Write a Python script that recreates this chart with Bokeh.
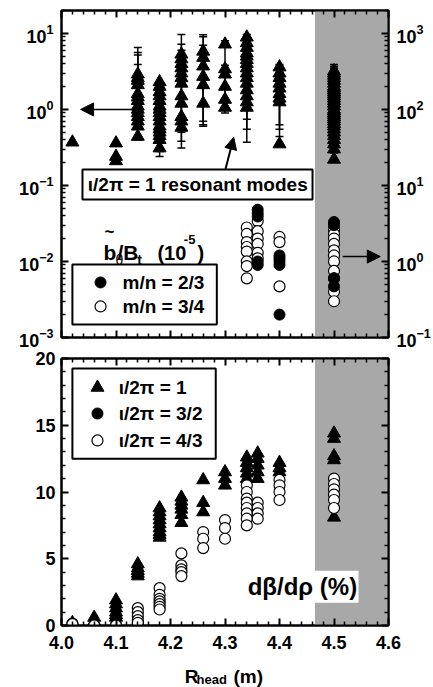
from bokeh.plotting import figure
from bokeh.layouts import column
from bokeh.models import (Range1d, LogAxis, LinearAxis, FixedTicker, PrintfTickFormatter,
                          Label, Arrow, NormalHead, LogScale, CustomLabelingPolicy)
from bokeh.embed import file_html
from bokeh.resources import INLINE

FONT = "Liberation Sans"

# ---------------- top panel data ----------------
# iota/2pi = 1 resonant modes, b/Bt (10^-5) on left axis (triangles)
tri_R = ([4.02] + [4.10] * 3 + [4.14] * 14 + [4.18] * 16 + [4.22] * 12 + [4.26] * 6 +
         [4.30] * 6 + [4.34] * 15 + [4.40] * 9 + [4.50] * 32)
tri_b = ([0.37] +
         [0.36, 0.24, 0.21] +
         [2.9, 2.6, 2.4, 2.1, 1.6, 1.45, 1.3, 1.1, 1.0, 0.9, 0.8, 0.7, 0.6, 0.44] +
         [2.3, 2.0, 1.7, 1.5, 1.3, 1.1, 1.0, 0.9, 0.8, 0.7, 0.6, 0.55, 0.5, 0.45, 0.4, 0.31] +
         [5.3, 4.6, 4.0, 3.5, 3.0, 2.6, 2.2, 1.5, 1.2, 0.8, 0.7, 0.58] +
         [5.8, 4.8, 3.7, 2.7, 2.1, 1.2] +
         [7.2, 3.4, 2.9, 2.0, 1.35, 1.06] +
         [8.9, 7.5, 6.5, 5.5, 5.0, 4.5, 4.0, 3.5, 3.0, 2.6, 2.2, 1.8, 1.5, 1.25, 1.06] +
         [3.6, 3.0, 2.6, 2.2, 1.9, 1.6, 1.4, 1.25, 0.35] +
         [3.2, 3.0, 2.8, 2.6, 2.4, 2.2, 2.0, 1.9, 1.8, 1.7, 1.6, 1.5, 1.4, 1.3, 1.2, 1.1,
          1.0, 0.95, 0.9, 0.85, 0.8, 0.75, 0.7, 0.65, 0.6, 0.55, 0.5, 0.45, 0.4, 0.35, 0.3, 0.22])
# error bars (low, high) of the triangles
err_R = [4.14] * 5 + [4.18] * 2 + [4.22] * 3 + [4.26] * 3 + [4.30] * 2 + [4.34] * 3 + [4.40] * 3 + [4.50] * 3
err_lo = [1.0, 1.6, 2.4, 0.6, 0.4, 0.24, 0.28, 0.31, 0.38, 0.5, 0.6, 0.63, 0.7, 0.9, 1.0,
          0.37, 0.55, 0.74, 0.44, 0.55, 0.63, 0.27, 0.3, 0.35]
err_hi = [6.5, 5.6, 5.2, 3.9, 1.2, 2.3, 1.5, 9.7, 7.2, 6.0, 9.6, 9.0, 7.0, 8.0, 3.8,
          9.7, 9.0, 8.0, 3.9, 3.7, 3.4, 3.9, 3.7, 3.5]

# m/n = 2/3 (filled) and 3/4 (open), right axis
mn23_R = [4.36] * 5 + [4.40] * 5 + [4.50] * 4
mn23_b = [4.8, 4.3, 3.9, 1.0, 0.9, 1.2, 1.1, 1.0, 0.9, 0.2, 3.3, 3.0, 0.6, 0.47]
mn34_R = [4.34] * 8 + [4.36] * 6 + [4.40] * 3 + [4.50] * 11
mn34_b = [2.8, 2.3, 1.8, 1.55, 1.35, 1.0, 0.87, 0.6,
          3.4, 2.5, 2.0, 1.7, 1.3, 1.1,
          2.1, 1.8, 0.47,
          2.6, 2.3, 2.0, 1.7, 1.4, 1.2, 1.0, 0.75, 0.6, 0.4, 0.3]

# ---------------- bottom panel data: dbeta/drho (%) ----------------
q1_R = ([4.02] * 2 + [4.06] * 2 + [4.10] * 6 + [4.14] * 5 + [4.18] * 9 + [4.22] * 6 +
        [4.26] * 3 + [4.30] * 3 + [4.34] * 5 + [4.36] * 5 + [4.40] * 3 + [4.50] * 5)
q1_v = ([0.1, 0.2] + [0.3, 0.6] + [1.9, 1.6, 1.3, 1.0, 0.8, 0.6] + [4.6, 4.3, 4.1, 3.9, 3.7] +
        [8.8, 8.5, 8.2, 7.9, 7.6, 7.3, 7.0, 6.8, 6.6] + [9.6, 9.3, 9.0, 8.7, 8.3, 7.7] +
        [10.9, 9.2, 8.5] + [11.5, 11.0, 10.5] + [12.6, 12.2, 11.8, 11.4, 11.0] +
        [12.9, 12.5, 12.0, 11.5, 11.0] + [12.2, 11.8, 11.5] + [14.4, 14.0, 12.7, 12.4, 8.1])
q32_R = [4.10, 4.14, 4.14]
q32_v = [0.05, 0.05, 0.15]
q43_R = ([4.02] * 2 + [4.06] + [4.10] + [4.14] * 5 + [4.18] * 7 + [4.22] * 5 + [4.26] * 3 +
         [4.30] * 3 + [4.34] * 8 + [4.36] * 4 + [4.40] * 4 + [4.50] * 6)
q43_v = ([0.15, 0.1] + [0.0] + [0.0] + [1.3, 1.0, 0.7, 0.4, 0.2] +
         [2.8, 2.3, 2.0, 1.8, 1.6, 1.4, 1.2] + [5.4, 4.5, 4.2, 4.0, 3.7] + [7.0, 6.5, 5.8] +
         [7.9, 7.3, 6.5] + [10.5, 10.0, 9.5, 9.2, 8.8, 8.4, 8.0, 7.5] + [9.2, 8.8, 8.4, 8.0] +
         [10.9, 10.5, 10.0, 9.4] + [11.0, 10.6, 10.2, 9.8, 9.4, 8.8])

x_ticks = [4.0, 4.1, 4.2, 4.3, 4.4, 4.5, 4.6]
shade = (4.465, 4.6)

GRAY = "#a8a8a8"


def style_axis(ax, labels=True, size="18px"):
    ax.axis_line_width = 2
    ax.axis_line_color = "black"
    ax.major_tick_in = 7
    ax.major_tick_out = 0
    ax.minor_tick_in = 4
    ax.minor_tick_out = 0
    ax.major_tick_line_width = 2
    ax.minor_tick_line_width = 1.5
    ax.major_tick_line_color = "black"
    ax.minor_tick_line_color = "black"
    ax.major_label_text_font = FONT
    ax.major_label_text_font_style = "bold"
    ax.major_label_text_color = "black"
    if labels:
        ax.major_label_text_font_size = size
        ax.major_label_standoff = 8
    else:
        ax.major_label_text_font_size = "0px"
        ax.major_label_standoff = 0
        ax.major_label_policy = CustomLabelingPolicy(
            code="for (const i of indices) { if (i < 0) yield i }")


def x_ticker():
    minors = [round(4.0 + 0.02 * i, 2) for i in range(31) if i % 5 != 0]
    return FixedTicker(ticks=x_ticks, minor_ticks=minors)


def log_ticker(lo_exp, hi_exp, top):
    majors = [10.0 ** e for e in range(lo_exp, hi_exp + 1)]
    minors = [k * 10.0 ** e for e in range(lo_exp, hi_exp + 1) for k in range(2, 10) if k * 10.0 ** e <= top]
    return FixedTicker(ticks=majors, minor_ticks=minors)


def txt(p, x, y, s, size="19px", align="left", baseline="alphabetic", style="bold", **kw):
    p.add_layout(Label(x=x, y=y, text=s, text_font=FONT, text_font_style=style,
                       text_font_size=size, text_align=align, text_baseline=baseline,
                       text_color="black", **kw))


# ================= TOP PANEL =================
top = figure(width=433, height=350, x_range=Range1d(4.0, 4.6), y_range=Range1d(1e-3, 20),
             y_axis_type="log", x_axis_location=None, y_axis_location=None, title=None,
             output_backend="svg", toolbar_location=None,
             min_border_left=61, min_border_right=44, min_border_top=10, min_border_bottom=13)
top.extra_y_ranges = {"right": Range1d(0.1, 2000)}
top.extra_y_scales = {"right": LogScale()}
top.grid.visible = False
top.outline_line_color = "black"
top.outline_line_width = 2

axL = LogAxis(ticker=log_ticker(-3, 1, 20))
style_axis(axL, True, "18px")
top.add_layout(axL, "left")
axR = LogAxis(y_range_name="right", ticker=log_ticker(-1, 3, 2000))
style_axis(axR, True, "18px")
top.add_layout(axR, "right")
axT = LinearAxis(ticker=x_ticker())
style_axis(axT, False)
top.add_layout(axT, "above")
axB = LinearAxis(ticker=x_ticker())
style_axis(axB, False)
top.add_layout(axB, "below")

top.quad(left=[shade[0]], right=[shade[1]], bottom=[1e-3], top=[20], fill_color=GRAY, line_color=None)

# error bars
top.segment(x0=err_R, y0=err_lo, x1=err_R, y1=err_hi, line_color="black", line_width=1.5)
top.scatter(err_R + err_R, err_lo + err_hi, marker="dash", size=8, line_color="black", line_width=1.5)
top.scatter(tri_R, tri_b, marker="triangle", size=13, fill_color="black", line_color="black")

top.scatter(mn34_R, mn34_b, marker="circle", size=11, fill_color="white", line_color="black",
            line_width=1.2, y_range_name="right")
top.scatter(mn23_R, mn23_b, marker="circle", size=11, fill_color="black", line_color="black",
            y_range_name="right")

# annotation box
top.quad(left=[4.0385], right=[4.4606], bottom=[0.0654], top=[0.162], fill_color="white",
         line_color="black", line_width=2)
txt(top, 4.25, 0.103, "ι/2π = 1 resonant modes", size="19px", align="center", baseline="middle")
top.add_layout(Arrow(x_start=4.301, y_start=0.165, x_end=4.316, y_end=0.43, line_width=2,
                     end=NormalHead(size=12, fill_color="black", line_color="black")))
top.add_layout(Arrow(x_start=4.136, y_start=1.0, x_end=4.035, y_end=1.0, line_width=1.5,
                     end=NormalHead(size=13, fill_color="black", line_color="black")))
top.add_layout(Arrow(x_start=4.516, y_start=0.0116, x_end=4.585, y_end=0.0116, line_width=1.5,
                     end=NormalHead(size=13, fill_color="black", line_color="black")))

# legend title  b~_theta / B_t (10^-5)
txt(top, 4.077, 0.0131, "b", size="21px")
txt(top, 4.088, 0.0245, "~", size="17px", align="center", baseline="middle")
txt(top, 4.099, 0.0104, "θ", size="14px", style="normal")
txt(top, 4.1028, 0.0131, "/B", size="21px")
txt(top, 4.139, 0.0104, "t", size="14px")
txt(top, 4.176, 0.0131, "(10", size="20px")
txt(top, 4.2245, 0.0195, "-5", size="13px")
txt(top, 4.2495, 0.0131, ")", size="20px")

# legend box
top.quad(left=[4.020], right=[4.285], bottom=[0.00148], top=[0.0091], fill_color="white",
         line_color="black", line_width=2)
top.scatter([4.0716], [0.0053], marker="circle", size=11, fill_color="black", line_color="black")
top.scatter([4.0716], [0.00256], marker="circle", size=11, fill_color="white", line_color="black",
            line_width=1.2)
txt(top, 4.112, 0.0053, "m/n = 2/3", size="19px", baseline="middle")
txt(top, 4.112, 0.00256, "m/n = 3/4", size="19px", baseline="middle")

# ================= BOTTOM PANEL =================
bot = figure(width=433, height=312, x_range=Range1d(4.0, 4.6), y_range=Range1d(0, 20),
             x_axis_location=None, y_axis_location=None, title=None,
             output_backend="svg", toolbar_location=None,
             min_border_left=61, min_border_right=44, min_border_top=8, min_border_bottom=37)
bot.grid.visible = False
bot.outline_line_color = "black"
bot.outline_line_width = 2

y_minor = [v for v in range(1, 20) if v % 5 != 0]
bL = LinearAxis(ticker=FixedTicker(ticks=[0, 5, 10, 15, 20], minor_ticks=y_minor))
style_axis(bL, True, "18px")
bL.major_label_standoff = 6
bot.add_layout(bL, "left")
bR = LinearAxis(ticker=FixedTicker(ticks=[0, 5, 10, 15, 20], minor_ticks=y_minor))
style_axis(bR, False)
bot.add_layout(bR, "right")
bT = LinearAxis(ticker=x_ticker())
style_axis(bT, False)
bot.add_layout(bT, "above")
bB = LinearAxis(ticker=x_ticker(), formatter=PrintfTickFormatter(format="%.1f"))
style_axis(bB, True, "18px")
bB.major_label_standoff = 10
bot.add_layout(bB, "below")

bot.quad(left=[shade[0]], right=[shade[1]], bottom=[0], top=[20], fill_color=GRAY, line_color=None)

bot.scatter(q1_R, q1_v, marker="triangle", size=13, fill_color="black", line_color="black")
bot.scatter(q32_R, q32_v, marker="circle", size=11, fill_color="black", line_color="black")
bot.scatter(q43_R, q43_v, marker="circle", size=11, fill_color="white", line_color="black",
            line_width=1.2)

# legend
bot.quad(left=[4.020], right=[4.283], bottom=[12.5], top=[19.25], fill_color="white",
         line_color="black", line_width=2)
bot.scatter([4.066], [17.83], marker="triangle", size=13, fill_color="black", line_color="black")
bot.scatter([4.066], [15.88], marker="circle", size=11, fill_color="black", line_color="black")
bot.scatter([4.066], [13.86], marker="circle", size=11, fill_color="white", line_color="black",
            line_width=1.2)
txt(bot, 4.105, 17.83, "ι/2π = 1", size="19px", baseline="middle")
txt(bot, 4.105, 15.88, "ι/2π = 3/2", size="19px", baseline="middle")
txt(bot, 4.105, 13.86, "ι/2π = 4/3", size="19px", baseline="middle")

# d beta / d rho label with white background
bot.quad(left=[4.338], right=[4.545], bottom=[1.7], top=[4.1], fill_color="white", line_color=None)
txt(bot, 4.442, 2.9, "dβ/dρ (%)", size="24px", align="center", baseline="middle")

# ================= x-axis title strip: R_head (m) =================
lab = figure(width=433, height=25, x_range=Range1d(4.0, 4.6), y_range=Range1d(0, 1),
             x_axis_location=None, y_axis_location=None, title=None,
             output_backend="svg", toolbar_location=None,
             min_border_left=61, min_border_right=44, min_border_top=0, min_border_bottom=0)
lab.grid.visible = False
lab.outline_line_color = None
txt(lab, 4.226, 0.44, "R", size="19px")
txt(lab, 4.2477, 0.31, "head", size="13px")
txt(lab, 4.3156, 0.44, "(m)", size="19px")

layout = column(top, bot, lab, spacing=0)
open("out.html", "w").write(file_html(layout, INLINE))
